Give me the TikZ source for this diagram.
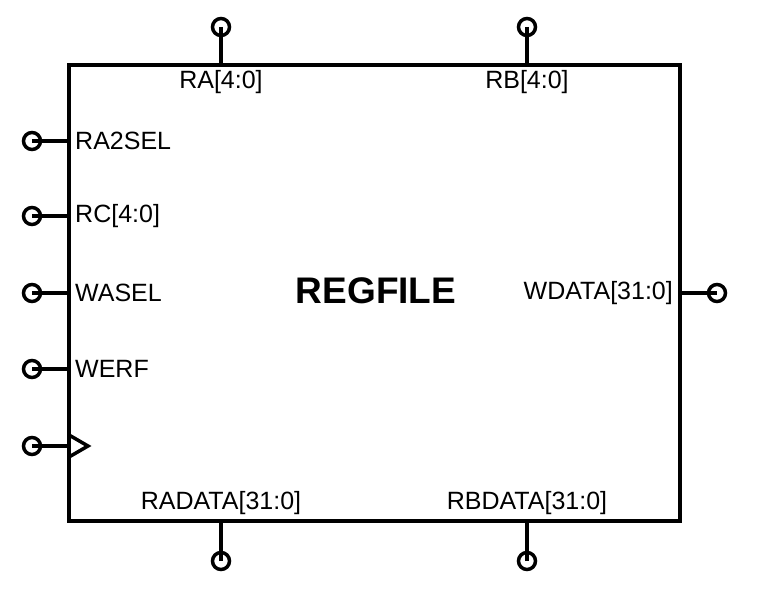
\documentclass[tikz,border=0pt]{standalone}
\usepackage{fontspec}
\setmainfont{Liberation Sans}
\begin{document}
\begin{tikzpicture}[x=1pt,y=-1pt,
  wire/.style={line width=3.5pt},
  pin/.style={circle,draw,line width=3.5pt,minimum size=17pt,inner sep=0pt},
  lbl/.style={font=\fontsize{25}{29}\selectfont,inner sep=0pt},
  title/.style={font=\fontsize{37}{42}\selectfont\bfseries,inner sep=0pt}]
\useasboundingbox (0,0) rectangle (758,594);
\draw[wire,line join=miter] (69,65) rectangle (680,521);
% top pins
\node[pin] (pa) at (221,27) {};
\node[pin] (pb) at (527,27) {};
\coordinate (ta) at (221,65);
\coordinate (tb) at (527,65);
\draw[wire] (pa.center) -- (ta);
\draw[wire] (pb.center) -- (tb);
\node[lbl] (lra) at (221,82) {RA[4:0]};
\node[lbl] (lrb) at (527,82) {RB[4:0]};
% bottom pins
\node[pin] (pra) at (221,561) {};
\node[pin] (prb) at (527,561) {};
\coordinate (ba) at (221,521);
\coordinate (bb) at (527,521);
\draw[wire] (pra.center) -- (ba);
\draw[wire] (prb.center) -- (bb);
\node[lbl] (lrad) at (221,503) {RADATA[31:0]};
\node[lbl] (lrbd) at (527,503) {RBDATA[31:0]};
% left pins
\foreach \n/\yy/\t in {a/141/RA2SEL,b/216/RC[4:0],c/293/WASEL,d/369/WERF}{
  \node[pin] (l\n) at (32,\yy) {};
  \coordinate (e\n) at (69,\yy);
  \draw[wire] (l\n.center) -- (e\n);
  \node[lbl,anchor=west] (t\n) at (75,\yy) {\t};
}
\node[pin] (lclk) at (32,446) {};
\coordinate (eclk) at (69,446);
\draw[wire] (lclk.center) -- (eclk);
\draw[wire,line join=miter] (69,435) -- (88,446) -- (69,457);
% right pin
\node[pin] (rw) at (717,293) {};
\coordinate (ew) at (680,293);
\draw[wire] (rw.center) -- (ew);
\node[lbl,anchor=east] (lw) at (673,293) {WDATA[31:0]};
% title
\node[title] (tt) at (376,291) {REGFILE};
\end{tikzpicture}
\end{document}
